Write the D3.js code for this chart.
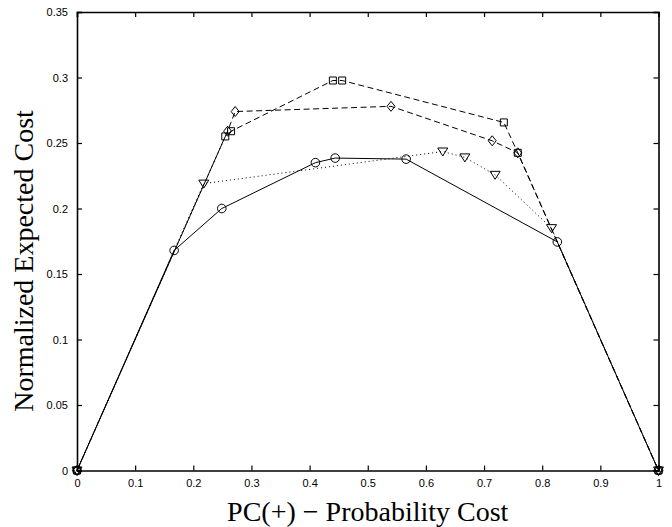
<!DOCTYPE html>
<meta charset="utf-8">
<style>
body { margin: 0; background: #fff; }
.tick text { font-family: "Liberation Sans", Arial, sans-serif; font-size: 11px; fill: #000; }
.title { font-family: "Liberation Serif", "Times New Roman", serif; font-size: 28px; fill: #000; }
</style>
<svg width="672" height="527"></svg>
<script src="https://d3js.org/d3.v7.min.js"></script>
<script>

// series values: [PC(+), normalized expected cost]
var circleSeries = [[0,0],[0.167,0.168],[0.249,0.2],[0.41,0.235],[0.444,0.2385],[0.566,0.2377],[0.826,0.1745],[1,0]];
var triangleSeries = [[0,0],[0.218,0.219],[0.629,0.2435],[0.667,0.239],[0.719,0.2257],[0.816,0.185],[1,0]];
var diamondSeries = [[0,0],[0.259,0.259],[0.272,0.274],[0.54,0.278],[0.714,0.2517],[0.758,0.2425],[1,0]];
var squareSeries = [[0,0],[0.255,0.255],[0.265,0.259],[0.44,0.2977],[0.456,0.2977],[0.734,0.2657],[0.758,0.2425],[1,0]];

var xTicks = [0,0.1,0.2,0.3,0.4,0.5,0.6,0.7,0.8,0.9,1];
var yTicks = [0,0.05,0.1,0.15,0.2,0.25,0.3,0.35];

var svg = d3.select("svg"),
    pLeft = 77, pRight = 658.5, pTop = 12, pBottom = 470.5;

var x = d3.scaleLinear().domain([0, 1]).range([pLeft, pRight]);
var y = d3.scaleLinear().domain([0, 0.35]).range([pBottom, pTop]);

var fmt = function(d) { return String(+d.toFixed(2)); };

// axes with inward ticks on all sides
svg.append("g").attr("transform", "translate(0," + pBottom + ")")
    .call(d3.axisBottom(x).tickValues(xTicks).tickSize(-5).tickPadding(9).tickFormat(fmt));
svg.append("g").attr("transform", "translate(0," + pTop + ")")
    .call(d3.axisTop(x).tickValues(xTicks).tickSize(-5).tickFormat(""));
svg.append("g").attr("transform", "translate(" + pLeft + ",0)")
    .call(d3.axisLeft(y).tickValues(yTicks).tickSize(-5).tickPadding(9).tickFormat(fmt));
svg.append("g").attr("transform", "translate(" + pRight + ",0)")
    .call(d3.axisRight(y).tickValues(yTicks).tickSize(-5).tickFormat(""));

svg.selectAll(".domain").attr("stroke", "#000").attr("stroke-width", 1.6);
svg.selectAll(".tick line").attr("stroke", "#000").attr("stroke-width", 1.2);

var line = d3.line().x(function(d) { return x(d[0]); }).y(function(d) { return y(d[1]); });

function drawLine(data, dash, offset) {
  svg.append("path").datum(data)
      .attr("d", line)
      .attr("fill", "none")
      .attr("stroke", "#000")
      .attr("stroke-width", 1)
      .attr("stroke-dasharray", dash)
      .attr("stroke-dashoffset", offset || 0);
}

drawLine(squareSeries, "6,3.5");
drawLine(diamondSeries, "6,3.5", 4.75);
drawLine(triangleSeries, "1,3");
drawLine(circleSeries, null);

function drawMarkers(data, path) {
  svg.append("g").selectAll("path")
    .data(data)
    .enter().append("path")
      .attr("transform", function(d) { return "translate(" + x(d[0]) + "," + y(d[1]) + ")"; })
      .attr("d", path)
      .attr("fill", "none")
      .attr("stroke", "#000")
      .attr("stroke-width", 1);
}

drawMarkers(circleSeries, "M4.3,0A4.3,4.3 0 1,1 -4.3,0A4.3,4.3 0 1,1 4.3,0Z");
drawMarkers(triangleSeries, "M-5,-3.5L5,-3.5L0,4.5Z");
drawMarkers(diamondSeries, "M0,-5L4,0L0,5L-4,0Z");
drawMarkers(squareSeries, "M-3.5,-3.5L3.5,-3.5L3.5,3.5L-3.5,3.5Z");

svg.append("text").attr("class", "title")
    .attr("x", (pLeft + pRight) / 2).attr("y", 521)
    .attr("text-anchor", "middle")
    .text("PC(+) \u2212 Probability Cost");

svg.append("text").attr("class", "title")
    .attr("transform", "translate(33,261) rotate(-90)")
    .attr("text-anchor", "middle")
    .text("Normalized Expected Cost");

</script>
